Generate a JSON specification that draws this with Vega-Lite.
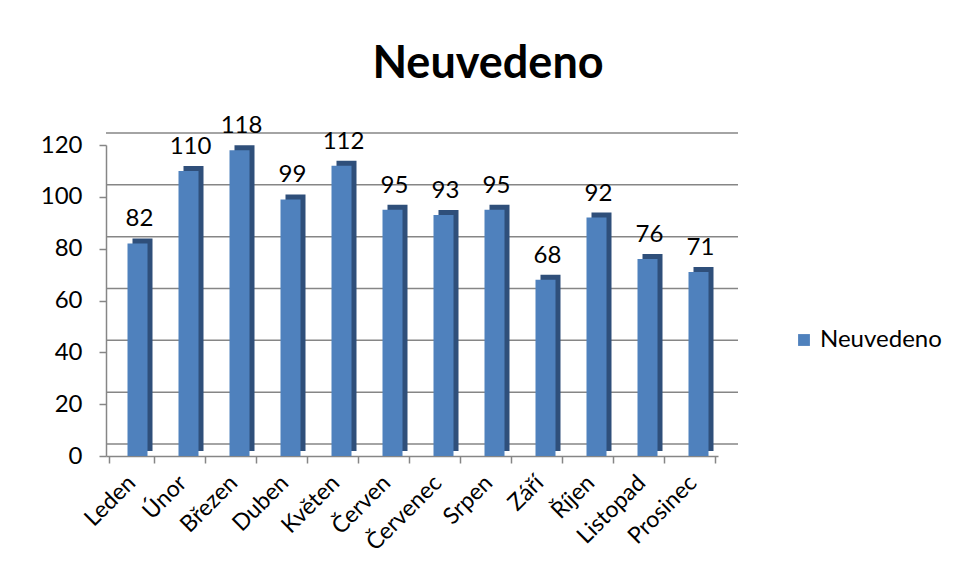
{
  "$schema": "https://vega.github.io/schema/vega-lite/v6.json",
  "autosize": "none",
  "width": 612,
  "height": 311,
  "padding": {"left": 106, "top": 145, "right": 241, "bottom": 123},
  "background": "white",
  "title": {"text": "Neuvedeno", "font": "Lato", "fontSize": 45, "fontWeight": "bold", "color": "#000000", "anchor": "middle", "offset": 27, "dx": 76},
  "config": {"view": {"stroke": null}, "font": "Lato"},
  "data": {"values": [
    {"mesic": "Leden", "pocet": 82, "serie": "Neuvedeno"},
    {"mesic": "Únor", "pocet": 110, "serie": "Neuvedeno"},
    {"mesic": "Březen", "pocet": 118, "serie": "Neuvedeno"},
    {"mesic": "Duben", "pocet": 99, "serie": "Neuvedeno"},
    {"mesic": "Květen", "pocet": 112, "serie": "Neuvedeno"},
    {"mesic": "Červen", "pocet": 95, "serie": "Neuvedeno"},
    {"mesic": "Červenec", "pocet": 93, "serie": "Neuvedeno"},
    {"mesic": "Srpen", "pocet": 95, "serie": "Neuvedeno"},
    {"mesic": "Září", "pocet": 68, "serie": "Neuvedeno"},
    {"mesic": "Říjen", "pocet": 92, "serie": "Neuvedeno"},
    {"mesic": "Listopad", "pocet": 76, "serie": "Neuvedeno"},
    {"mesic": "Prosinec", "pocet": 71, "serie": "Neuvedeno"}
  ]},
  "layer": [
    {
      "data": {"values": [{"v": 0}, {"v": 20}, {"v": 40}, {"v": 60}, {"v": 80}, {"v": 100}, {"v": 120}]},
      "mark": {"type": "rule", "color": "#868686", "strokeWidth": 1.5, "xOffset": 20, "yOffset": -12},
      "encoding": {"y": {"field": "v", "type": "quantitative", "scale": {"domain": [0, 120]}}}
    },
    {
      "mark": {"type": "bar", "color": "#2F4F7A", "size": 20, "xOffset": 11, "yOffset": -5},
      "encoding": {
        "x": {"field": "mesic", "type": "nominal", "sort": null},
        "y": {"field": "pocet", "type": "quantitative"}
      }
    },
    {
      "mark": {"type": "bar", "size": 20, "xOffset": 6},
      "encoding": {
        "x": {"field": "mesic", "type": "nominal", "sort": null,
          "axis": {"title": null, "labelAngle": -45, "labelAlign": "right", "labelBaseline": "middle", "labelFontSize": 23, "labelColor": "#000000", "labelPadding": 16, "domainColor": "#868686", "domainWidth": 1.5, "tickColor": "#868686", "tickWidth": 1.5, "tickSize": 7, "tickBand": "extent", "labelFont": "Lato"}},
        "y": {"field": "pocet", "type": "quantitative", "scale": {"domain": [0, 120], "nice": false},
          "axis": {"title": null, "values": [0, 20, 40, 60, 80, 100, 120], "grid": false, "labelFontSize": 24, "labelColor": "#000000", "labelPadding": 17, "domainColor": "#868686", "domainWidth": 1.5, "tickColor": "#868686", "tickWidth": 1.5, "tickSize": 7, "labelFont": "Lato"}},
        "color": {"field": "serie", "type": "nominal", "scale": {"range": ["#4F81BD"]},
          "legend": {"title": null, "orient": "none", "legendX": 686, "legendY": 183, "symbolType": "square", "symbolSize": 140, "symbolStrokeWidth": 0, "labelFontSize": 24, "labelColor": "#000000", "labelFont": "Lato"}}
      }
    },
    {
      "mark": {"type": "text", "fontSize": 24, "color": "#000000", "baseline": "bottom", "dy": -12, "xOffset": 8},
      "encoding": {
        "x": {"field": "mesic", "type": "nominal", "sort": null},
        "y": {"field": "pocet", "type": "quantitative"},
        "text": {"field": "pocet", "type": "quantitative"}
      }
    }
  ]
}
